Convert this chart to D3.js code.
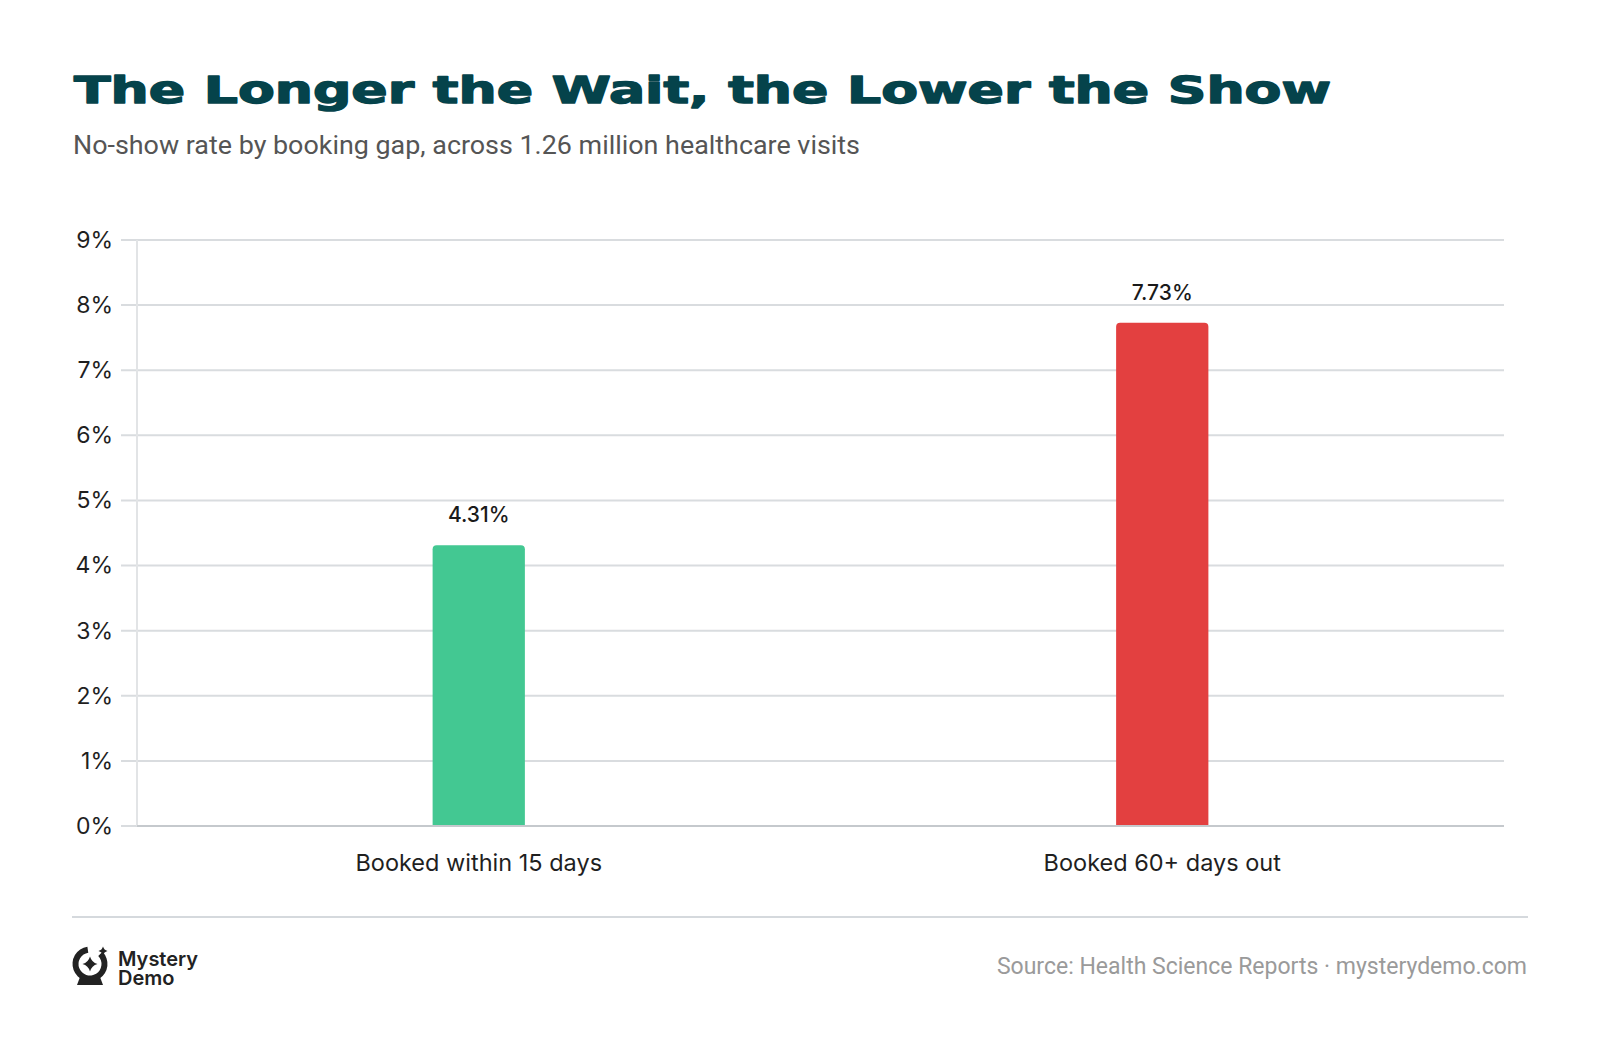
<!DOCTYPE html>
<html>
<head>
<meta charset="utf-8">
<script src="https://cdn.jsdelivr.net/npm/d3@7"></script>
<style>
  html, body { margin: 0; padding: 0; background: #ffffff; }
  svg { display: block; }
</style>
</head>
<body>
<div id="chart"></div>
<script>
'use strict';

// values
const categories = ["Booked within 15 days", "Booked 60+ days out"];
const noShowRates = [4.31, 7.73];
const yTicks = [0, 1, 2, 3, 4, 5, 6, 7, 8, 9];
const titleText = "The Longer the Wait, the Lower the Show";
const subtitleText = "No-show rate by booking gap, across 1.26 million healthcare visits";
const sourceText = "Source: Health Science Reports \u00b7 mysterydemo.com";
const logoLines = ["Mystery", "Demo"];

const width = 1600;
const height = 1042;
const margin = { top: 240, left: 137, right: 96, bottom: 216 };
const panelWidth = width - margin.left - margin.right;
const panelHeight = height - margin.top - margin.bottom;
const barColors = ["#43C892", "#E34040"];

const svg = d3.select("#chart").append("svg")
  .attr("width", width)
  .attr("height", height);

// title + subtitle
svg.append("text")
  .attr("x", 74)
  .attr("y", 103)
  .attr("textLength", 1257)
  .attr("lengthAdjust", "spacingAndGlyphs")
  .style("font-family", "'DejaVu Sans', sans-serif")
  .style("font-weight", 700)
  .style("font-size", "38px")
  .style("fill", "#05434B")
  .style("stroke", "#05434B")
  .style("stroke-width", 1.4)
  .style("stroke-linejoin", "round")
  .text(titleText);

svg.append("text")
  .attr("x", 73)
  .attr("y", 154)
  .attr("textLength", 787)
  .attr("lengthAdjust", "spacingAndGlyphs")
  .style("font-family", "Roboto, sans-serif")
  .style("font-size", "25px")
  .style("fill", "#555555")
  .text(subtitleText);

const xScale = d3.scaleBand()
  .domain(categories)
  .range([0, panelWidth])
  .paddingInner(0.865)
  .paddingOuter(0.4325);

const yScale = d3.scaleLinear()
  .domain([0, 9])
  .range([panelHeight, 0]);

const chart = svg.append("g")
  .attr("transform", `translate(${margin.left}, ${margin.top})`);

// gridlines
chart.selectAll(".grid")
  .data(yTicks)
  .enter().append("line")
  .attr("class", "grid")
  .attr("x1", -16)
  .attr("x2", panelWidth)
  .attr("y1", function (d) { return yScale(d); })
  .attr("y2", function (d) { return yScale(d); })
  .attr("stroke", "#d9dcdf")
  .attr("stroke-width", 2);

// y axis labels
const yAxis = d3.axisLeft(yScale)
  .tickValues(yTicks)
  .tickFormat(function (d) { return d + "%"; })
  .tickSize(0)
  .tickPadding(24);

const yAxisG = chart.append("g")
  .attr("class", "y-axis")
  .call(yAxis);
yAxisG.select(".domain").remove();
yAxisG.selectAll("text")
  .style("font-family", "Inter, sans-serif")
  .style("font-size", "23px")
  .style("fill", "#1f1f1f");

// vertical axis line
chart.append("line")
  .attr("x1", 0).attr("x2", 0)
  .attr("y1", yScale(9)).attr("y2", yScale(0))
  .attr("stroke", "#e2e4e6")
  .attr("stroke-width", 2);

// bars with rounded tops
const radius = 4;
const barPath = function (d, i) {
  const x0 = xScale(categories[i]);
  const x1 = x0 + xScale.bandwidth();
  const y0 = yScale(0);
  const y1 = yScale(d);
  return `M${x0},${y0} L${x0},${y1 + radius} Q${x0},${y1} ${x0 + radius},${y1} ` +
    `L${x1 - radius},${y1} Q${x1},${y1} ${x1},${y1 + radius} L${x1},${y0} Z`;
};

chart.selectAll(".bar")
  .data(noShowRates)
  .enter().append("path")
  .attr("class", "bar")
  .attr("d", barPath)
  .style("fill", function (d, i) { return barColors[i]; });

// baseline
chart.append("line")
  .attr("x1", 0).attr("x2", panelWidth)
  .attr("y1", yScale(0)).attr("y2", yScale(0))
  .attr("stroke", "#c5c9cd")
  .attr("stroke-width", 2);

// value labels
chart.selectAll(".value")
  .data(noShowRates)
  .enter().append("text")
  .attr("class", "value")
  .attr("x", function (d, i) { return xScale(categories[i]) + xScale.bandwidth() / 2; })
  .attr("y", function (d) { return yScale(d) - 23; })
  .attr("text-anchor", "middle")
  .style("font-family", "Inter, sans-serif")
  .style("font-weight", 500)
  .style("font-size", "21px")
  .style("fill", "#1a1a1a")
  .text(function (d) { return d.toFixed(2) + "%"; });

// category labels
chart.selectAll(".cat")
  .data(categories)
  .enter().append("text")
  .attr("class", "cat")
  .attr("x", function (d) { return xScale(d) + xScale.bandwidth() / 2; })
  .attr("y", yScale(0) + 45)
  .attr("text-anchor", "middle")
  .style("font-family", "Inter, sans-serif")
  .style("font-size", "23.5px")
  .style("fill", "#1f1f1f")
  .text(function (d) { return d; });

// footer
svg.append("line")
  .attr("x1", 72).attr("x2", 1528)
  .attr("y1", 917).attr("y2", 917)
  .attr("stroke", "#d5d9dd")
  .attr("stroke-width", 2);

const logo = svg.append("g")
  .attr("transform", "translate(72, 946)");

// crystal ball ring, open at top right
logo.append("path")
  .attr("d", d3.arc()({ innerRadius: 11.5, outerRadius: 17.5, startAngle: 0.8, endAngle: 2 * Math.PI - 0.15 }))
  .attr("transform", "translate(18, 18)")
  .style("fill", "#222222");
// base
logo.append("path")
  .attr("d", "M8,31 L28,31 L31,39 L5,39 Z")
  .style("fill", "#222222");
// sparkles
const sparkle = function (cx, cy, r) {
  const k = r * 0.22;
  return `M${cx},${cy - r} Q${cx + k},${cy - k} ${cx + r},${cy} Q${cx + k},${cy + k} ${cx},${cy + r} ` +
    `Q${cx - k},${cy + k} ${cx - r},${cy} Q${cx - k},${cy - k} ${cx},${cy - r} Z`;
};
logo.append("path").attr("d", sparkle(18, 18, 7.5)).style("fill", "#222222");
logo.append("path").attr("d", sparkle(31, 5, 4.5)).style("fill", "#222222");

logo.selectAll(".logo-text")
  .data(logoLines)
  .enter().append("text")
  .attr("class", "logo-text")
  .attr("x", 46)
  .attr("y", function (d, i) { return 20 + i * 19; })
  .style("font-family", "Inter, sans-serif")
  .style("font-weight", 600)
  .style("font-size", "20px")
  .style("fill", "#222222")
  .text(function (d) { return d; });

svg.append("text")
  .attr("x", 1527)
  .attr("y", 974)
  .attr("text-anchor", "end")
  .style("font-family", "Roboto, sans-serif")
  .style("font-size", "23px")
  .style("fill", "#9a9a9a")
  .text(sourceText);
</script>
</body>
</html>
